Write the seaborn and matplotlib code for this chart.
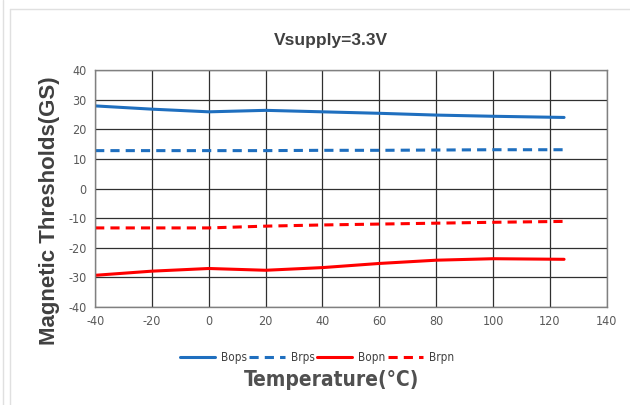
import matplotlib
matplotlib.use("Agg")
import matplotlib.pyplot as plt
from matplotlib.lines import Line2D
import numpy as np
import pandas as pd
import seaborn as sns

temperature = [-40, -20, 0, 20, 40, 60, 80, 100, 125]
bops = [27.9, 26.8, 25.9, 26.4, 25.9, 25.4, 24.8, 24.4, 24.0]
brps = [12.8, 12.8, 12.8, 12.8, 12.9, 12.9, 13.0, 13.1, 13.1]
bopn = [-29.3, -27.9, -27.0, -27.6, -26.7, -25.3, -24.2, -23.7, -23.9]
brpn = [-13.3, -13.3, -13.3, -12.7, -12.3, -12.0, -11.7, -11.4, -11.1]

series_names = ["Bops", "Brps", "Bopn", "Brpn"]
series_colors = ["#1f6fbf", "#1f6fbf", "#ff0000", "#ff0000"]
series_dashed = [False, True, False, True]

df = pd.DataFrame({"Temperature": temperature, "Bops": bops, "Brps": brps,
                   "Bopn": bopn, "Brpn": brpn})
df_long = df.melt(id_vars="Temperature", var_name="Series", value_name="Value")

sns.set_style("white")
plt.rcParams['font.family'] = ['Liberation Sans', 'DejaVu Sans']
plt.rcParams['axes.unicode_minus'] = False

fig = plt.figure(figsize=(6.3, 4.05), dpi=100)
ax = fig.add_axes([0.151, 0.242, 0.812, 0.585])

for name, color, dashed in zip(series_names, series_colors, series_dashed):
    sub = df_long[df_long["Series"] == name]
    sns.lineplot(data=sub, x="Temperature", y="Value", ax=ax, color=color,
                 linewidth=2.2, label=name,
                 linestyle=(0, (3, 2)) if dashed else "-")

ax.set_xlim(-40, 140)
ax.set_ylim(-40, 40)
ax.set_xticks(np.arange(-40, 141, 20))
ax.set_yticks(np.arange(-40, 41, 10))
ax.grid(True, color="#303030", linewidth=0.9)
for s in ax.spines.values():
    s.set_color("#808080")
    s.set_linewidth(1.0)
ax.tick_params(axis="both", labelsize=9, labelcolor="#595959", length=0, pad=6)
for lab in ax.get_xticklabels() + ax.get_yticklabels():
    lab.set_fontstretch("condensed")
    lab.set_family(["DejaVu Sans"])
ax.set_xlabel("")
ax.set_ylabel("")
ax.set_title("Vsupply=3.3V", fontsize=12.5, fontweight="bold", color="#404040",
             pad=18, x=0.46)

fig.text(0.079, 0.48, "Magnetic Thresholds(GS)", rotation=90, ha="center",
         va="center", fontsize=16, fontweight="bold", color="#404040")

handles, labels = ax.get_legend_handles_labels()
ax.get_legend().remove()
fig.legend(handles, labels, ncol=4, loc="center", bbox_to_anchor=(0.503, 0.118),
           frameon=False, handlelength=3.0, columnspacing=0.2,
           handletextpad=0.5, labelcolor="#404040",
           prop={"family": "DejaVu Sans", "stretch": "condensed", "size": 8.5})

fig.text(0.527, 0.062, "Temperature(\u00b0C)", ha="center", va="center",
         fontsize=15, fontweight="bold", color="#505050",
         family="DejaVu Sans", fontstretch="condensed")

# light frame lines of the original chart area
fig.add_artist(Line2D([3 / 630, 3 / 630], [0, 1], color="#e0e0e0", lw=1))
fig.add_artist(Line2D([10 / 630, 10 / 630], [0, 1 - 9 / 405], color="#e0e0e0", lw=1))
fig.add_artist(Line2D([10 / 630, 1], [1 - 9 / 405, 1 - 9 / 405], color="#e0e0e0", lw=1))

fig.savefig("out.png", dpi=100)
